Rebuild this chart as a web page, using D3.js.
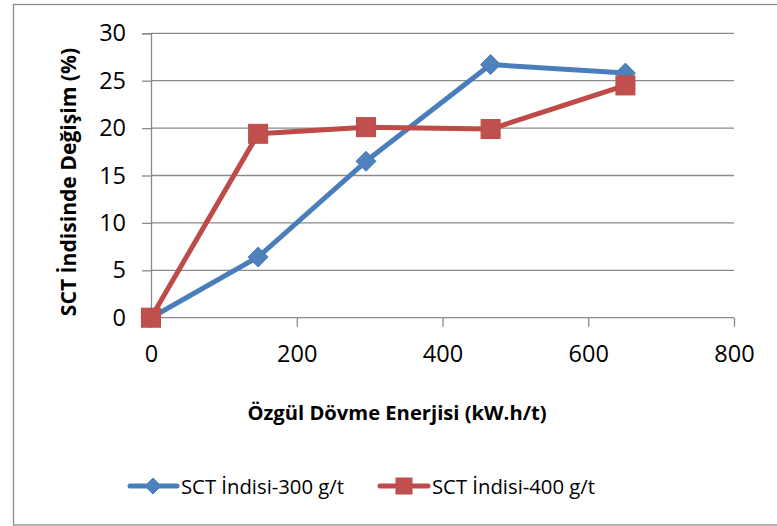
<!DOCTYPE html>
<html>
<head>
<meta charset="utf-8">
<script src="https://cdn.jsdelivr.net/npm/d3@7"></script>
<style>
  html, body { margin: 0; padding: 0; background: #fff; }
  svg { display: block; font-family: "Open Sans", sans-serif; }
</style>
</head>
<body>
<svg id="chart" width="777" height="526"></svg>
<script>
// Specific forging energy (kW.h/t) and SCT index change (%)
const energy = [0, 147, 295, 466, 651];
const sct300 = [0, 6.4, 16.5, 26.7, 25.8];
const sct400 = [0, 19.4, 20.1, 19.9, 24.5];
const seriesNames = ["SCT İndisi-300 g/t", "SCT İndisi-400 g/t"];
const xTicks = [0, 200, 400, 600, 800];
const yTicks = [0, 5, 10, 15, 20, 25, 30];
const xTitle = "Özgül Dövme Enerjisi (kW.h/t)";
const yTitle = "SCT İndisinde Değişim (%)";

const blue = "#4A7EBB", blueFill = "#4F81BD";
const red = "#BE4B48", redFill = "#C0504D";
const gridColor = "#8A8A8A";

const svg = d3.select("#chart");

// outer chart frame
svg.append("rect")
  .attr("x", 13.5).attr("y", 4.5)
  .attr("width", 800).attr("height", 520.5)
  .attr("fill", "#fff").attr("stroke", "#8C8C8C").attr("stroke-width", 1.3);

const x = d3.scaleLinear().domain([0, 800]).range([151, 734]);
const y = d3.scaleLinear().domain([0, 30]).range([317.7, 33.3]);

// horizontal gridlines
svg.append("g").selectAll("line").data(yTicks.filter(d => d > 0)).join("line")
  .attr("x1", x(0)).attr("x2", x(800))
  .attr("y1", d => y(d)).attr("y2", d => y(d))
  .attr("stroke", gridColor).attr("stroke-width", 1.3);

// y axis
const yAxis = svg.append("g")
  .attr("transform", `translate(${x(0)},0)`)
  .call(d3.axisLeft(y).tickValues(yTicks).tickSize(9).tickPadding(16));
yAxis.select(".domain").attr("stroke", gridColor).attr("stroke-width", 1.3);
yAxis.selectAll(".tick line").attr("stroke", gridColor).attr("stroke-width", 1.3);
yAxis.selectAll(".tick text")
  .attr("fill", "#000").style("font-size", "23.5px").style("font-family", "'Open Sans', sans-serif");

// x axis
const xAxis = svg.append("g")
  .attr("transform", `translate(0,${y(0)})`)
  .call(d3.axisBottom(x).tickValues(xTicks).tickSize(9).tickPadding(19));
xAxis.select(".domain").attr("stroke", gridColor).attr("stroke-width", 1.3)
  .attr("d", `M${x(0)},0H${x(800)}`);
xAxis.selectAll(".tick line").attr("stroke", gridColor).attr("stroke-width", 1.3);
xAxis.selectAll(".tick").filter(d => d === 0).select("line").attr("y2", 0);
xAxis.selectAll(".tick text")
  .attr("fill", "#000").style("font-size", "23.5px").style("font-family", "'Open Sans', sans-serif");

// axis titles
svg.append("text")
  .attr("x", 397).attr("y", 420)
  .attr("text-anchor", "middle")
  .style("font-size", "20.2px").style("font-weight", "bold")
  .text(xTitle);

svg.append("text")
  .attr("transform", "translate(75.5,182) rotate(-90)")
  .attr("text-anchor", "middle")
  .style("font-size", "21.1px").style("font-weight", "bold")
  .text(yTitle);

// series
const line = d3.line().x(d => x(d[0])).y(d => y(d[1]));
const s300 = energy.map((e, i) => [e, sct300[i]]);
const s400 = energy.map((e, i) => [e, sct400[i]]);

function diamond(g, cx, cy, r) {
  g.append("path")
    .attr("d", `M${cx},${cy - r}L${cx + r},${cy}L${cx},${cy + r}L${cx - r},${cy}Z`)
    .attr("fill", blueFill).attr("stroke", blue).attr("stroke-width", 1);
}
function square(g, cx, cy, h) {
  g.append("rect")
    .attr("x", cx - h).attr("y", cy - h).attr("width", 2 * h).attr("height", 2 * h)
    .attr("fill", redFill).attr("stroke", red).attr("stroke-width", 1);
}

const g300 = svg.append("g");
g300.append("path").datum(s300).attr("d", line)
  .attr("fill", "none").attr("stroke", blue).attr("stroke-width", 5)
  .attr("stroke-linejoin", "round").attr("stroke-linecap", "round");
s300.forEach(d => diamond(g300, x(d[0]), y(d[1]), 10));

const g400 = svg.append("g");
g400.append("path").datum(s400).attr("d", line)
  .attr("fill", "none").attr("stroke", red).attr("stroke-width", 5)
  .attr("stroke-linejoin", "round").attr("stroke-linecap", "round");
s400.forEach(d => square(g400, x(d[0]), y(d[1]), 9.5));

// legend
const leg = svg.append("g");
const legY = 486;
[[130, 177, 153, blue, "d", 181], [380, 428, 404, red, "s", 432]].forEach((p, i) => {
  leg.append("line").attr("x1", p[0]).attr("x2", p[1]).attr("y1", legY).attr("y2", legY)
    .attr("stroke", p[3]).attr("stroke-width", 5).attr("stroke-linecap", "round");
  if (p[4] === "d") diamond(leg, p[2], legY, 8);
  else square(leg, p[2], legY, 8);
  leg.append("text").attr("x", p[5]).attr("y", legY + 7.5)
    .style("font-size", "20.3px").text(seriesNames[i]);
});
</script>
</body>
</html>
